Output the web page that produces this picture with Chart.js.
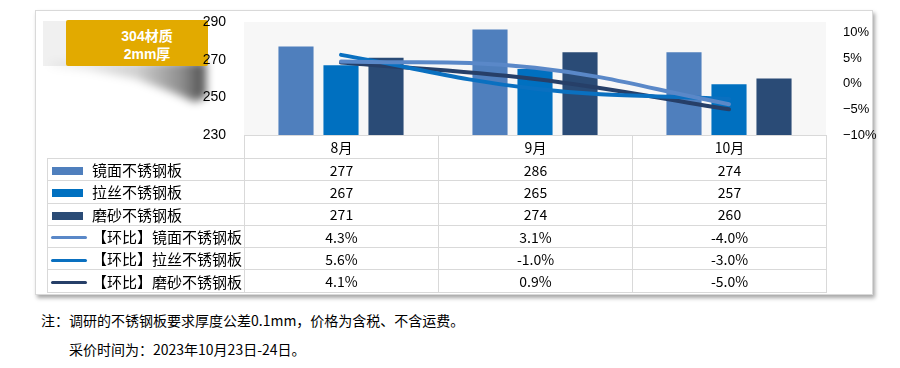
<!DOCTYPE html>
<html>
<head>
<meta charset="utf-8">
<script src="https://cdn.jsdelivr.net/npm/chart.js@4.4.1/dist/chart.umd.min.js"></script>
<style>
  body { margin: 0; width: 900px; height: 368px; background: #fff; position: relative; overflow: hidden;
         font-family: "Noto Sans CJK SC", "Noto Sans", sans-serif; color: #000; }
  .abs { position: absolute; }
  #card { left: 35px; top: 10px; width: 836px; height: 283px; border: 1px solid #d9d9d9;
          box-shadow: 2px 3px 4px rgba(0,0,0,.35); background: #fff; }
  #tagBack { left: 43px; top: 21px; width: 30px; height: 45px; background: #f0f0f0; }
  #shadowWrap { left: 0; top: 0; width: 260px; height: 120px; filter: blur(4px); }
  #shadow { left: 50px; top: 62px; width: 156px; height: 40px;
            background: linear-gradient(to right, rgba(0,0,0,.04), rgba(0,0,0,.18) 55%, rgba(0,0,0,.45) 85%, rgba(0,0,0,.7));
            clip-path: polygon(0 0, 100% 0, 100% 86%, 93% 100%, 78% 75%, 55% 42%, 25% 20%, 0 12%); }
  #tag { left: 66px; top: 20px; width: 142px; height: 46px; background: #e2aa00; border-radius: 2px;
         color: #fff; font: bold 14px "Liberation Sans", "Noto Sans CJK SC", sans-serif; line-height: 18px;
         text-align: center; box-sizing: border-box; padding: 7px 0 0 20px; }
  #chartBox { left: 0; top: 0; width: 900px; height: 160px; }
  #tbl { left: 47px; top: 135px; border-collapse: collapse; table-layout: fixed; font-size: 14px; }
  #tbl td { border: 1px solid #d9d9d9; padding: 0; text-align: center; white-space: nowrap; overflow: hidden; }
  #tbl td.lab { text-align: left; font-size: 15px; }
  #tbl tr { height: 22.3px; }
  #tbl tr.head { height: 23px; }
  #tbl tr.head td.blank { border-top: none; border-left: none; }
  .sym { display: inline-block; vertical-align: middle; margin: 0 6px 2px 0; }
  .note { font-size: 14px; white-space: nowrap; }
</style>
</head>
<body>
<div id="card" class="abs"></div>
<div id="tagBack" class="abs"></div>
<div id="shadowWrap" class="abs"><div id="shadow" class="abs"></div></div>
<div id="tag" class="abs">304材质<br>2mm厚</div>
<div id="chartBox" class="abs"><canvas id="chart" width="900" height="160"></canvas></div>
<table id="tbl" class="abs"></table>
<div class="abs note" style="left:41px; top:310px;">注：调研的不锈钢板要求厚度公差0.1mm，价格为含税、不含运费。</div>
<div class="abs note" style="left:69px; top:339px;">采价时间为：2023年10月23日-24日。</div>

<script>
// ── Data ────────────────────────────────────────────────────────────────────
const categories   = ['8月', '9月', '10月'];
const seriesNames  = ['镜面不锈钢板', '拉丝不锈钢板', '磨砂不锈钢板'];
const mirrorPrice  = [277, 286, 274];
const brushedPrice = [267, 265, 257];
const sandedPrice  = [271, 274, 260];
const mirrorMoM    = [4.3, 3.1, -4.0];
const brushedMoM   = [5.6, -1.0, -3.0];
const sandedMoM    = [4.1, 0.9, -5.0];
const leftTicks    = [230, 250, 270, 290];
const rightTicks   = [-10, -5, 0, 5, 10];

const BAR_COLORS  = ['#4f7fbd', '#0070c0', '#2a4b76'];
const LINE_COLORS = ['#5a88c8', '#0a70c0', '#263f68'];

const fmtPct  = v => v.toFixed(1) + '%';
const fmtTick = v => (v < 0 ? '\u2212' + Math.abs(v) : v) + '%';

// ── Chart ───────────────────────────────────────────────────────────────────
function barDataset(label, data, color) {
  return { type: 'bar', label, data, backgroundColor: color, yAxisID: 'y', order: 2,
           barPercentage: 0.78, categoryPercentage: 0.696 };
}
function lineDataset(label, data, color) {
  return { type: 'line', label, data, borderColor: color, backgroundColor: color, borderWidth: 4,
           tension: 0.4, pointRadius: 0, yAxisID: 'y1', order: 1, borderCapStyle: 'round' };
}

const plotBg = {
  id: 'plotBg',
  beforeDraw(c) {
    const { ctx, chartArea: a } = c;
    ctx.save();
    ctx.fillStyle = '#f7f7f7';
    ctx.fillRect(a.left, a.top, a.right - a.left, a.bottom - a.top);
    ctx.restore();
  },
};

new Chart(document.getElementById('chart'), {
  data: {
    labels: categories,
    datasets: [
      barDataset(seriesNames[0], mirrorPrice, BAR_COLORS[0]),
      barDataset(seriesNames[1], brushedPrice, BAR_COLORS[1]),
      barDataset(seriesNames[2], sandedPrice, BAR_COLORS[2]),
      lineDataset('【环比】' + seriesNames[0], mirrorMoM, LINE_COLORS[0]),
      lineDataset('【环比】' + seriesNames[1], brushedMoM, LINE_COLORS[1]),
      lineDataset('【环比】' + seriesNames[2], sandedMoM, LINE_COLORS[2]),
    ],
  },
  options: {
    responsive: false,
    animation: false,
    layout: { padding: { left: 200, right: 20, top: 22, bottom: 25 } },
    plugins: { legend: { display: false }, tooltip: { enabled: false } },
    scales: {
      x: { display: false },
      y: {
        position: 'left', min: 230, max: 290,
        afterBuildTicks: s => { s.ticks = leftTicks.map(v => ({ value: v })); },
        afterFit: s => { s.width = 44; },
        grid: { display: false }, border: { display: false },
        ticks: { color: '#000', padding: 10, font: { family: 'Liberation Sans', size: 14 } },
      },
      y1: {
        position: 'right', min: -10, max: 12,
        afterBuildTicks: s => { s.ticks = rightTicks.map(v => ({ value: v })); },
        afterFit: s => { s.width = 54; },
        grid: { display: false }, border: { display: false },
        ticks: { color: '#000', padding: 9, font: { family: 'Liberation Sans', size: 13 },
                 callback: v => fmtTick(v) },
      },
    },
  },
  plugins: [plotBg],
});

// ── Data table ──────────────────────────────────────────────────────────────
const tableRows = [
  { name: seriesNames[0], kind: 'bar',  color: BAR_COLORS[0],  cells: mirrorPrice.map(String) },
  { name: seriesNames[1], kind: 'bar',  color: BAR_COLORS[1],  cells: brushedPrice.map(String) },
  { name: seriesNames[2], kind: 'bar',  color: BAR_COLORS[2],  cells: sandedPrice.map(String) },
  { name: '【环比】' + seriesNames[0], kind: 'line', color: LINE_COLORS[0], cells: mirrorMoM.map(fmtPct) },
  { name: '【环比】' + seriesNames[1], kind: 'line', color: LINE_COLORS[1], cells: brushedMoM.map(fmtPct) },
  { name: '【环比】' + seriesNames[2], kind: 'line', color: LINE_COLORS[2], cells: sandedMoM.map(fmtPct) },
];

const tbl = document.getElementById('tbl');
let html = '<colgroup><col style="width:197px"><col style="width:194px"><col style="width:194px"><col style="width:194px"></colgroup>';
html += '<tr class="head"><td class="blank"></td>' + categories.map(c => `<td>${c}</td>`).join('') + '</tr>';
for (const r of tableRows) {
  const sym = r.kind === 'bar'
    ? `<span class="sym" style="width:31px;height:8px;margin-left:4px;margin-right:9px;background:${r.color}"></span>`
    : `<span class="sym" style="width:36px;height:3px;margin-left:3px;margin-right:5px;border-radius:2px;background:${r.color}"></span>`;
  html += `<tr><td class="lab">${sym}${r.name}</td>` + r.cells.map(v => `<td>${v}</td>`).join('') + '</tr>';
}
tbl.innerHTML = html;
</script>
</body>
</html>
